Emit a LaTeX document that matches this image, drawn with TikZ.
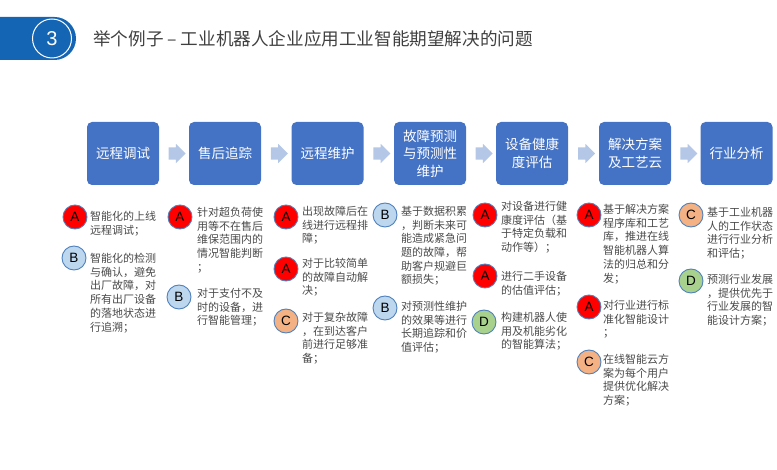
\documentclass[tikz,border=0pt]{standalone}
\usepackage{fontspec}
\setmainfont{Liberation Sans}
\newfontfamily\cjk{Noto Sans CJK SC}
\usetikzlibrary{shapes.arrows,calc}
\definecolor{boxblue}{HTML}{4472C4}
\definecolor{arrowc}{HTML}{B4C7E7}
\definecolor{hdrblue}{HTML}{1565B5}
\definecolor{txtgray}{HTML}{4A4A4A}
\definecolor{titlegray}{HTML}{404040}
\definecolor{cA}{HTML}{FF0000}
\definecolor{cB}{HTML}{BDD7EE}
\definecolor{cC}{HTML}{F4B183}
\definecolor{cD}{HTML}{A9D18E}
\definecolor{ring}{HTML}{4F81BD}
\begin{document}
\begin{tikzpicture}[x=1pt,y=-1pt,
  stepbox/.style={fill=boxblue, rounded corners=5pt, minimum width=72pt, minimum height=63pt, inner sep=0pt, text=white, align=center, font=\cjk\fontsize{13.5}{17.5}\selectfont},
  flow/.style={single arrow, fill=arrowc, draw=none, inner xsep=0pt, inner ysep=6pt, minimum height=17pt, single arrow head extend=3.5pt, single arrow head indent=0pt},
  bul/.style={circle, draw=ring, line width=0.9pt, minimum size=24pt, inner sep=0pt, font=\fontsize{13.5}{13.5}\selectfont},
  txt/.style={anchor=north west, inner sep=0pt, align=left, text=txtgray, font=\cjk\fontsize{11}{13.7}\selectfont}]
\useasboundingbox (0,0) rectangle (777,470);
% header
\fill[hdrblue] (0,17) -- (54.5,17) arc[start angle=-90,end angle=90,radius=21.5] -- (0,60) -- cycle;
\node[circle, draw=white, line width=1pt, minimum size=39pt, inner sep=0pt, text=white, font=\fontsize{20}{20}\selectfont] (num) at (52,38.5) {3};
\node[anchor=west, inner sep=0pt, text=titlegray, font=\cjk\fontsize{17.6}{17.6}\selectfont] (title) at (93,39) {举个例子 – 工业机器人企业应用工业智能期望解决的问题};
% boxes
\node[stepbox] (b1) at (123,153.5) {远程调试};
\node[stepbox] (b2) at (225,153.5) {售后追踪};
\node[stepbox] (b3) at (327.5,153.5) {远程维护};
\node[stepbox] (b4) at (430,153.5) {故障预测\\与预测性\\维护};
\node[stepbox] (b5) at (532,153.5) {设备健康\\度评估};
\node[stepbox] (b6) at (635,153.5) {解决方案\\及工艺云};
\node[stepbox] (b7) at (736.5,153.5) {行业分析};
% arrows
\node[flow] (a1) at ($(b1.east)!0.5!(b2.west)$) {};
\node[flow] (a2) at ($(b2.east)!0.5!(b3.west)$) {};
\node[flow] (a3) at ($(b3.east)!0.5!(b4.west)$) {};
\node[flow] (a4) at ($(b4.east)!0.5!(b5.west)$) {};
\node[flow] (a5) at ($(b5.east)!0.5!(b6.west)$) {};
\node[flow] (a6) at ($(b6.east)!0.5!(b7.west)$) {};
% column 1
\node[bul, fill=cA] (c11) at (75,217) {A};
\node[txt] (t11) at (90,211) {智能化的上线\\远程调试；};
\node[bul, fill=cB] (c12) at (74,258) {B};
\node[txt] (t12) at (90,253) {智能化的检测\\与确认，避免\\出厂故障，对\\所有出厂设备\\的落地状态进\\行追溯；};
% column 2
\node[bul, fill=cA] (c21) at (180,217) {A};
\node[txt] (t21) at (197,207) {针对超负荷使\\用等不在售后\\维保范围内的\\情况智能判断\\；};
\node[bul, fill=cB] (c22) at (179,297) {B};
\node[txt] (t22) at (197,288) {对于支付不及\\时的设备，进\\行智能管理；};
% column 3
\node[bul, fill=cA] (c31) at (286,217) {A};
\node[txt] (t31) at (302,206) {出现故障后在\\线进行远程排\\障；};
\node[bul, fill=cA] (c32) at (286,269) {A};
\node[txt] (t32) at (302,258) {对于比较简单\\的故障自动解\\决；};
\node[bul, fill=cC] (c33) at (286,321) {C};
\node[txt] (t33) at (302,312) {对于复杂故障\\，在到达客户\\前进行足够准\\备；};
% column 4
\node[bul, fill=cB] (c41) at (385,215) {B};
\node[txt] (t41) at (401,206) {基于数据积累\\，判断未来可\\能造成紧急问\\题的故障，帮\\助客户规避巨\\额损失；};
\node[bul, fill=cB] (c42) at (385,308) {B};
\node[txt] (t42) at (401,301) {对预测性维护\\的效果等进行\\长期追踪和价\\值评估；};
% column 5
\node[bul, fill=cA] (c51) at (485,215) {A};
\node[txt] (t51) at (501,201) {对设备进行健\\康度评估（基\\于特定负载和\\动作等）；};
\node[bul, fill=cA] (c52) at (485,276) {A};
\node[txt] (t52) at (501,271) {进行二手设备\\的估值评估；};
\node[bul, fill=cD] (c53) at (484,322) {D};
\node[txt] (t53) at (501,312) {构建机器人使\\用及机能劣化\\的智能算法；};
% column 6
\node[bul, fill=cA] (c61) at (589,215) {A};
\node[txt] (t61) at (603,204) {基于解决方案\\程序库和工艺\\库，推进在线\\智能机器人算\\法的归总和分\\发；};
\node[bul, fill=cA] (c62) at (589,307) {A};
\node[txt] (t62) at (603,300) {对行业进行标\\准化智能设计\\；};
\node[bul, fill=cC] (c63) at (589,362) {C};
\node[txt] (t63) at (603,354) {在线智能云方\\案为每个用户\\提供优化解决\\方案；};
% column 7
\node[bul, fill=cC] (c71) at (691,215) {C};
\node[txt] (t71) at (707,207) {基于工业机器\\人的工作状态\\进行行业分析\\和评估；};
\node[bul, fill=cD] (c72) at (691,281) {D};
\node[txt] (t72) at (707,274) {预测行业发展\\，提供优先于\\行业发展的智\\能设计方案；};
\end{tikzpicture}
\end{document}
